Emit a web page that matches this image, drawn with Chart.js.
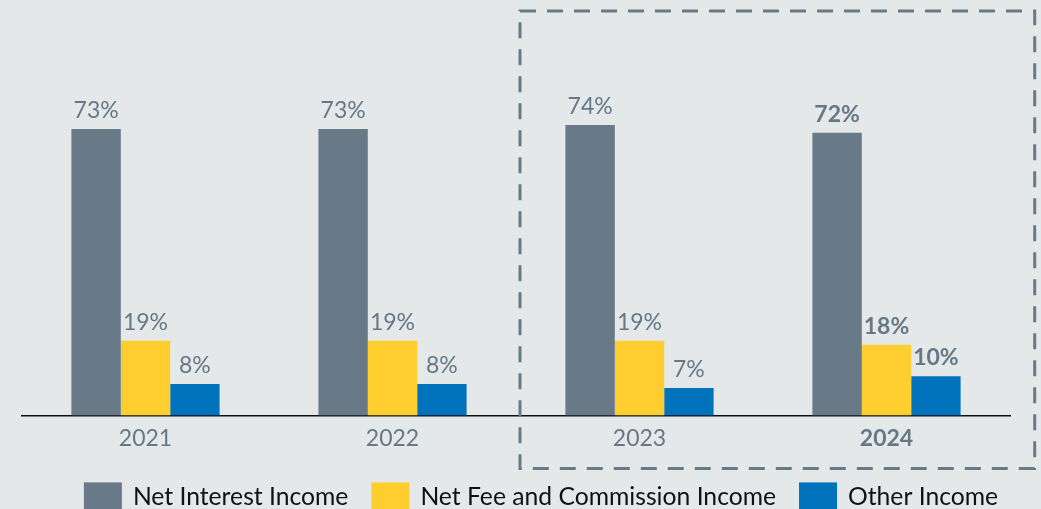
<!DOCTYPE html>
<html>
<head>
<meta charset="utf-8">
<script src="https://cdn.jsdelivr.net/npm/chart.js@4/dist/chart.umd.min.js"></script>
<style>
  html, body { margin: 0; padding: 0; background: #e4e8e9; }
  #wrap { width: 1041px; height: 509px; }
</style>
</head>
<body>
<div id="wrap"><canvas id="chart" width="1041" height="509"></canvas></div>
<script>
// Income mix by year, share of total operating income (%)
const years = ['2021', '2022', '2023', '2024'];
const netInterestIncome = [73, 73, 74, 72];
const netFeeCommissionIncome = [19, 19, 19, 18];
const otherIncome = [8, 8, 7, 10];
const seriesNames = ['Net Interest Income', 'Net Fee and Commission Income', 'Other Income'];

const GREY = '#687a88';
const YELLOW = '#fecd2e';
const BLUE = '#0173bd';
const LABEL = '#667886';
const FONT = 'Lato, "Open Sans", sans-serif';
const highlightIndex = years.length - 1;

// value labels above each bar; the latest year is set in bold
const valueLabels = {
  id: 'valueLabels',
  afterDatasetsDraw(chart) {
    const ctx = chart.ctx;
    ctx.save();
    ctx.textAlign = 'center';
    ctx.textBaseline = 'alphabetic';
    chart.data.datasets.forEach((ds, di) => {
      const meta = chart.getDatasetMeta(di);
      meta.data.forEach((bar, i) => {
        ctx.fillStyle = LABEL;
        ctx.font = (i === highlightIndex ? 'bold ' : '') + '23px ' + FONT;
        ctx.fillText(ds.data[i] + '%', bar.x, bar.y - 11);
      });
    });
    ctx.restore();
  }
};

// dashed frame around the two most recent years
const recentFrame = {
  id: 'recentFrame',
  afterDraw(chart) {
    const x = chart.scales.x, y = chart.scales.y;
    const cat = x.getPixelForValue(1) - x.getPixelForValue(0);
    const left = x.getPixelForValue(2) - cat * 0.5 + 4;
    const right = x.getPixelForValue(3) + cat * 0.6;
    const top = y.getPixelForValue(100) - 12;
    const bottom = chart.chartArea.bottom + 53;
    const ctx = chart.ctx;
    ctx.save();
    ctx.strokeStyle = GREY;
    ctx.lineWidth = 3;
    ctx.setLineDash([16, 11]);
    ctx.strokeRect(left, top, right - left, bottom - top);
    ctx.restore();
  }
};

// legend row under the axis: colour swatch followed by series name
const legendRow = {
  id: 'legendRow',
  afterDraw(chart) {
    const ctx = chart.ctx;
    const boxW = 38, boxH = 28, gapBox = 11, gapItem = 23;
    const centerX = chart.chartArea.left + 519;
    const midY = chart.chartArea.bottom + 81;
    ctx.save();
    ctx.font = '24.7px ' + FONT;
    ctx.textBaseline = 'middle';
    ctx.textAlign = 'left';
    const items = chart.data.datasets.map(ds => ({
      text: ds.label, color: ds.backgroundColor, w: ctx.measureText(ds.label).width
    }));
    const total = items.reduce((s, it) => s + boxW + gapBox + it.w, 0) + gapItem * (items.length - 1);
    let x = centerX - total / 2;
    items.forEach(it => {
      ctx.fillStyle = it.color;
      ctx.fillRect(x, midY - boxH / 2, boxW, boxH);
      ctx.fillStyle = '#111';
      ctx.fillText(it.text, x + boxW + gapBox, midY + 1);
      x += boxW + gapBox + it.w + gapItem;
    });
    ctx.restore();
  }
};

new Chart(document.getElementById('chart'), {
  type: 'bar',
  data: {
    labels: years,
    datasets: [
      { label: seriesNames[0], data: netInterestIncome, backgroundColor: GREY },
      { label: seriesNames[1], data: netFeeCommissionIncome, backgroundColor: YELLOW },
      { label: seriesNames[2], data: otherIncome, backgroundColor: BLUE }
    ]
  },
  options: {
    responsive: false,
    animation: false,
    layout: { padding: { top: 23, left: 22, right: 31, bottom: 48 } },
    datasets: { bar: { categoryPercentage: 0.6, barPercentage: 1.0 } },
    scales: {
      x: {
        grid: { display: false, drawTicks: false },
        border: { display: true, color: '#111', width: 1.5 },
        ticks: {
          padding: 9,
          color: LABEL,
          font: (c) => ({ family: FONT, size: 23, weight: c.index === highlightIndex ? 'bold' : 'normal' })
        }
      },
      y: { display: false, min: 0, max: 100 }
    },
    plugins: {
      tooltip: { enabled: false },
      legend: { display: false }
    }
  },
  plugins: [valueLabels, recentFrame, legendRow]
});
</script>
</body>
</html>
